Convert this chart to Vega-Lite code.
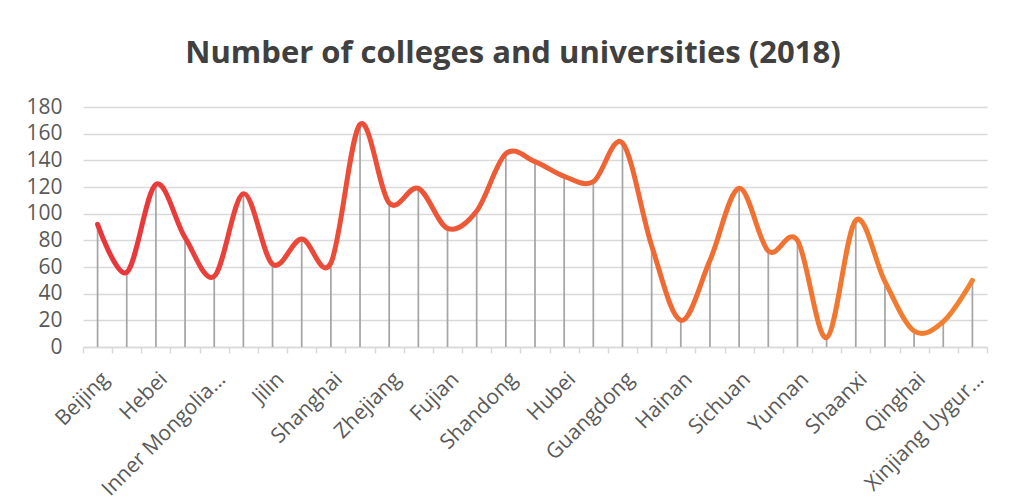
{
  "$schema": "https://vega.github.io/schema/vega-lite/v6.json",
  "width": 904,
  "height": 240,
  "autosize": {"type": "none"},
  "padding": {"left": 83, "top": 107, "right": 25, "bottom": 156},
  "background": "white",
  "title": {
    "text": "Number of colleges and universities (2018)",
    "anchor": "middle",
    "dx": -22,
    "offset": 26,
    "font": "Open Sans",
    "fontSize": 31,
    "fontWeight": "bold",
    "color": "#404040"
  },
  "config": {
    "view": {"stroke": null},
    "font": "Open Sans"
  },
  "data": {
    "values": [
      {"province": "Beijing", "count": 92},
      {"province": "Tianjin", "count": 56},
      {"province": "Hebei", "count": 122},
      {"province": "Shanxi", "count": 82},
      {"province": "Inner Mongolia Autonomous Region", "count": 53},
      {"province": "Liaoning", "count": 115},
      {"province": "Jilin", "count": 62},
      {"province": "Heilongjiang", "count": 81},
      {"province": "Shanghai", "count": 63},
      {"province": "Jiangsu", "count": 167},
      {"province": "Zhejiang", "count": 108},
      {"province": "Anhui", "count": 119},
      {"province": "Fujian", "count": 89},
      {"province": "Jiangxi", "count": 102},
      {"province": "Shandong", "count": 145},
      {"province": "Henan", "count": 139},
      {"province": "Hubei", "count": 128},
      {"province": "Hunan", "count": 124},
      {"province": "Guangdong", "count": 153},
      {"province": "Guangxi Zhuang Autonomous Region", "count": 76},
      {"province": "Hainan", "count": 20},
      {"province": "Chongqing", "count": 65},
      {"province": "Sichuan", "count": 119},
      {"province": "Guizhou", "count": 72},
      {"province": "Yunnan", "count": 80},
      {"province": "Tibet Autonomous Region", "count": 7},
      {"province": "Shaanxi", "count": 95},
      {"province": "Gansu", "count": 49},
      {"province": "Qinghai", "count": 12},
      {"province": "Ningxia Hui Autonomous Region", "count": 19},
      {"province": "Xinjiang Uygur Autonomous Region", "count": 50}
    ]
  },
  "encoding": {
    "x": {
      "field": "province",
      "type": "nominal",
      "sort": null,
      "scale": {"type": "band", "paddingInner": 0, "paddingOuter": 0},
      "axis": {
        "title": null,
        "tickBand": "extent",
        "domainColor": "#D9D9D9",
        "domainWidth": 1.5,
        "tickColor": "#D9D9D9",
        "tickWidth": 1.5,
        "tickSize": 6,
        "labelAngle": -45,
        "labelPadding": 15,
        "labelFont": "Open Sans",
        "labelFontSize": 21,
        "labelColor": "#595959",
        "labelOverlap": false,
        "labelLimit": 300,
        "labelExpr": "indexof(['Beijing','Hebei','Inner Mongolia Autonomous Region','Jilin','Shanghai','Zhejiang','Fujian','Shandong','Hubei','Guangdong','Hainan','Sichuan','Yunnan','Shaanxi','Qinghai','Xinjiang Uygur Autonomous Region'], datum.value) >= 0 ? replace(datum.label, ' Autonomous Region', '...') : ''"
      }
    },
    "y": {
      "field": "count",
      "type": "quantitative",
      "scale": {"domain": [0, 180], "nice": false},
      "axis": {
        "title": null,
        "values": [0, 20, 40, 60, 80, 100, 120, 140, 160, 180],
        "domain": false,
        "ticks": false,
        "grid": true,
        "gridColor": "#D9D9D9",
        "gridWidth": 1.3,
        "labelOverlap": false,
        "labelPadding": 21,
        "labelFont": "Open Sans",
        "labelFontSize": 21,
        "labelColor": "#595959"
      }
    }
  },
  "layer": [
    {
      "mark": {"type": "rule", "color": "#A6A6A6", "strokeWidth": 1.75},
      "encoding": {
        "y2": {"datum": 0}
      }
    },
    {
      "mark": {
        "type": "line",
        "interpolate": "cardinal",
        "strokeWidth": 5,
        "strokeCap": "round",
        "color": {
          "gradient": "linear",
          "x1": 0, "x2": 1, "y1": 0, "y2": 0,
          "stops": [
            {"offset": 0, "color": "#E8353B"},
            {"offset": 0.5, "color": "#EE5F36"},
            {"offset": 1, "color": "#F2822F"}
          ]
        }
      },
      "encoding": {}
    }
  ]
}
